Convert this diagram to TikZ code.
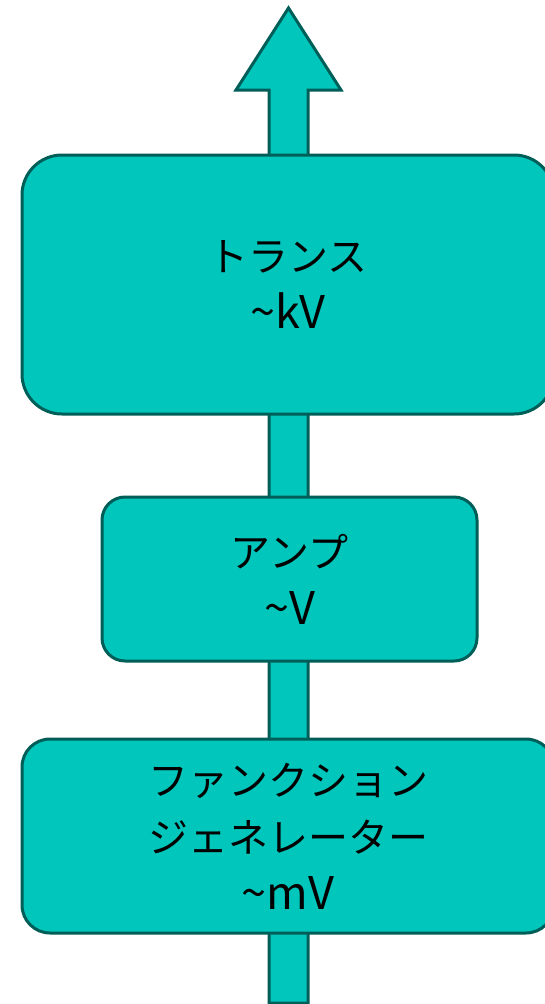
\documentclass[tikz,border=0pt]{standalone}
\usepackage{fontspec}
\setmainfont{Noto Sans CJK JP}
\definecolor{boxfill}{RGB}{0,198,188}
\definecolor{boxline}{RGB}{0,94,88}
\newcommand{\lat}[1]{{\fontsize{45}{57}\selectfont #1}}
\begin{document}
\begin{tikzpicture}[x=1pt,y=-1pt,
  stage/.style={draw=boxline,fill=boxfill,line width=3pt,align=center,
    font=\fontsize{40}{57}\selectfont,inner sep=0pt},
  fatarrow/.style={draw=boxline,fill=boxfill,line width=3pt,line join=miter}]
\useasboundingbox (0,0) rectangle (544,1004);
% big arrow
\coordinate (tip) at (288.5,8);
\coordinate (hl) at (236,90);
\coordinate (hr) at (341,90);
\coordinate (sl) at (269,90);
\coordinate (sr) at (308,90);
\coordinate (bl) at (269,1003);
\coordinate (br) at (308,1003);
\draw[fatarrow] (tip) -- (hr) -- (sr) -- (br) -- (bl) -- (sl) -- (hl) -- cycle;
% stages
\node[stage,rounded corners=40pt,minimum width=532pt,minimum height=259pt]
  (trans) at (288,284.5) {トランス\\\lat{\textasciitilde kV}};
\node[stage,rounded corners=23pt,minimum width=375pt,minimum height=164pt]
  (amp) at (289.5,579) {アンプ\\\lat{\textasciitilde V}};
\node[stage,rounded corners=28pt,minimum width=532pt,minimum height=194pt]
  (fg) at (288,836) {ファンクション\\ジェネレーター\\\lat{\textasciitilde mV}};
\end{tikzpicture}
\end{document}
